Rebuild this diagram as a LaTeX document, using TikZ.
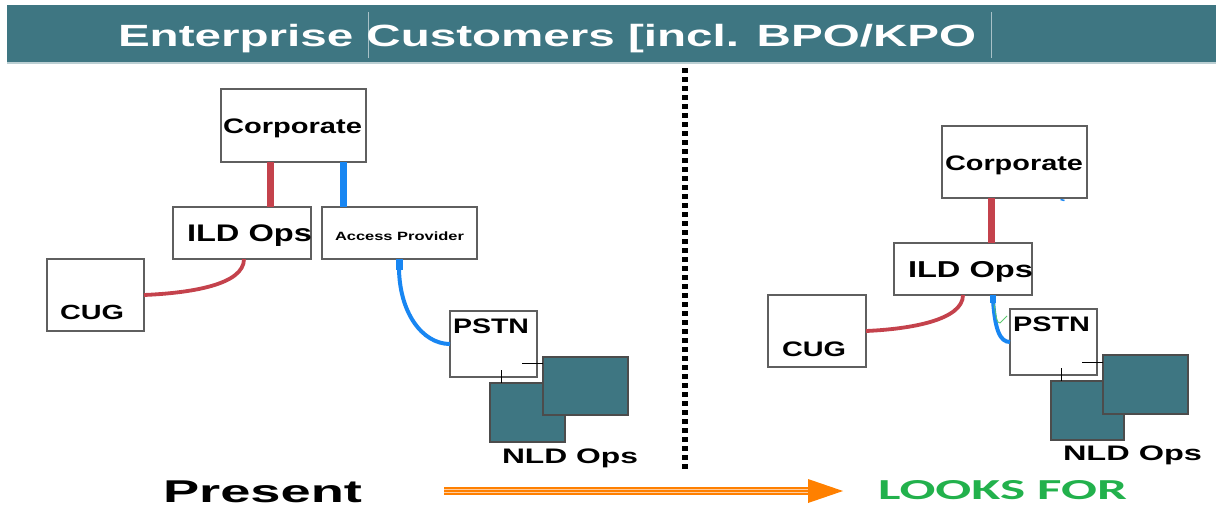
\documentclass[tikz,border=0pt]{standalone}
\usepackage{fontspec}
\setmainfont{Liberation Sans}
\newfontfamily\calfont{Carlito}
\usepackage{graphicx}
\usetikzlibrary{calc}
\definecolor{teal0}{RGB}{62,118,130}
\definecolor{boxgray}{RGB}{95,95,95}
\definecolor{redC}{RGB}{196,66,76}
\definecolor{blueC}{RGB}{24,134,242}
\definecolor{orangeC}{RGB}{255,128,0}
\definecolor{orangeL}{RGB}{255,205,160}
\definecolor{greenC}{RGB}{34,177,76}
\definecolor{thinG}{RGB}{90,200,110}
\newcommand{\tw}[3]{\resizebox{#2pt}{\height}{\fontsize{#1}{#1}\selectfont\bfseries #3}}
\tikzset{
  box/.style={draw=boxgray, line width=1.3pt, fill=white, inner sep=0pt, outer sep=0pt},
  nld/.style={draw=black!70, line width=1.1pt, fill=teal0, inner sep=0pt, outer sep=0pt},
  lbl/.style={anchor=base west, inner sep=0pt, outer sep=0pt, text=black},
  redthick/.style={draw=redC, line width=7pt},
  bluethick/.style={draw=blueC, line width=7pt},
  redcurve/.style={draw=redC, line width=3.8pt},
  bluecurve/.style={draw=blueC, line width=4pt},
  tick/.style={draw=black, line width=0.9pt}
}
\begin{document}
\begin{tikzpicture}[x=1pt,y=-1pt]
\useasboundingbox (0,0) rectangle (1216,507);
% header band
\fill[teal0] (7,5) rectangle (1216,62);
\draw[white!65!teal0, line width=1.5pt] (7,63) -- (1216,63);
\draw[white!55!teal0, line width=0.8pt] (368,12) -- (368,58);
\draw[white!55!teal0, line width=0.8pt] (991,12) -- (991,58);
\node[lbl, text=white] (title) at (118,46) {\tw{30.7}{858}{Enterprise Customers [incl. BPO/KPO}};

% dotted divider
\coordinate (dT) at (685,68);
\coordinate (dB) at (685,470);
\draw[line width=5.5pt, dash pattern=on 5pt off 4pt] (dT) -- (dB);

% ---------- left (Present) ----------
\node[box, minimum width=145pt, minimum height=73pt] (corpL) at (293.5,125.5) {};
\node[box, minimum width=138pt, minimum height=52pt] (ildL) at (242,233) {};
\node[box, minimum width=155pt, minimum height=52pt] (apL) at (399.5,233) {};
\node[box, minimum width=97pt, minimum height=72pt] (cugL) at (95.5,295) {};
\node[box, minimum width=87pt, minimum height=66pt] (pstnL) at (493.5,344) {};
\node[nld, minimum width=75pt, minimum height=59pt] (nldL1) at (527.5,412.5) {};
\node[nld, minimum width=85pt, minimum height=58pt] (nldL2) at (585.5,386) {};

\draw[redthick] ([xshift=-23.5pt]corpL.south) -- ([xshift=-23.5pt]corpL.south |- ildL.north);
\draw[bluethick] ([xshift=49.5pt]corpL.south) -- ([xshift=49.5pt]corpL.south |- apL.north);
\draw[redcurve] ([xshift=2pt]ildL.south) .. controls +(0,26) and +(46,-2) .. (cugL.east);
\draw[bluethick] ([xshift=-0.5pt]apL.south) -- ++(0,11);
\draw[bluecurve] ([xshift=-0.5pt,yshift=-8pt]apL.south) .. controls +(0,45) and +(-28,0) .. (pstnL.west);
\draw[tick] ([xshift=-26.5pt]nldL1.north) -- ++(0,-13);
\draw[tick] ([yshift=23pt]nldL2.west) -- ++(-21,0);

\node[lbl] (tCorpL) at (223,133) {\tw{21}{139}{Corporate}};
\node[lbl] (tIldL) at (187,241) {\tw{24}{125}{ILD Ops}};
\node[lbl] (tApL) at (335,240.5) {\tw{12}{129}{Access Provider}};
\node[lbl] (tCugL) at (60,319) {\tw{20.5}{64}{CUG}};
\node[lbl] (tPstnL) at (453,333) {\tw{21}{76}{PSTN}};
\node[lbl] (tNldL) at (502,463) {\tw{21}{136}{NLD Ops}};

% ---------- right (Looks for) ----------
\node[box, minimum width=145pt, minimum height=72pt] (corpR) at (1014.5,162) {};
\node[box, minimum width=138pt, minimum height=52pt] (ildR) at (963,269) {};
\node[box, minimum width=98pt, minimum height=72pt] (cugR) at (817,331) {};
\node[box, minimum width=87pt, minimum height=66pt] (pstnR) at (1053.5,342) {};
\node[nld, minimum width=73pt, minimum height=59pt] (nldR1) at (1087.5,410.5) {};
\node[nld, minimum width=85pt, minimum height=59pt] (nldR2) at (1145.5,384.5) {};

\draw[redthick] ([xshift=-23.5pt]corpR.south) -- ([xshift=-23.5pt]corpR.south |- ildR.north);
\draw[draw=blueC, line width=1.5pt] ([xshift=46pt,yshift=-1.5pt]corpR.south) -- ++(4,1);
\draw[redcurve] (ildR.south) .. controls +(0,25) and +(45,-2) .. (cugR.east);
\draw[draw=blueC, line width=6pt] ([xshift=30pt]ildR.south) -- ++(0,8);
\draw[bluecurve] ([xshift=30pt,yshift=-5pt]ildR.south) .. controls +(2,30) and +(-10,0) .. (pstnR.west);
\draw[draw=thinG, line width=0.8pt] ($(pstnR.west)+(-16,-38)$) .. controls ($(pstnR.west)+(-13,-20)$) .. ($(pstnR.west)+(-10,-19)$) -- ($(pstnR.west)+(-3,-26)$);
\draw[tick] ([xshift=-26.5pt]nldR1.north) -- ++(0,-13);
\draw[tick] ([yshift=22.5pt]nldR2.west) -- ++(-21,0);

\node[lbl] (tCorpR) at (945,170) {\tw{21}{138}{Corporate}};
\node[lbl] (tIldR) at (908,277) {\tw{23}{125}{ILD Ops}};
\node[lbl] (tCugR) at (782,356) {\tw{21}{64}{CUG}};
\node[lbl] (tPstnR) at (1013,331) {\tw{21}{77}{PSTN}};
\node[lbl] (tNldR) at (1063,460) {\tw{21}{139}{NLD Ops}};

% ---------- bottom ----------
\node[lbl] (present) at (163,502) {\tw{31.5}{199}{Present}};
\node[lbl, text=greenC] (looks) at (878,499) {\resizebox{249pt}{\height}{\fontsize{29}{29}\selectfont\calfont\bfseries LOOKS FOR}};
\coordinate (aS) at (444,491);
\coordinate (aM) at (808,491);
\coordinate (aE) at (843,491);
\draw[draw=orangeC, line width=8.5pt] (aS) -- (aM);
\draw[draw=orangeL, line width=1pt] ([yshift=1.6pt]aS) -- ([yshift=1.6pt]aM);
\draw[draw=orangeL, line width=1pt] ([yshift=-1.6pt]aS) -- ([yshift=-1.6pt]aM);
\fill[orangeC] ([yshift=12pt]aM) -- (aE) -- ([yshift=-12pt]aM) -- cycle;
\end{tikzpicture}
\end{document}
